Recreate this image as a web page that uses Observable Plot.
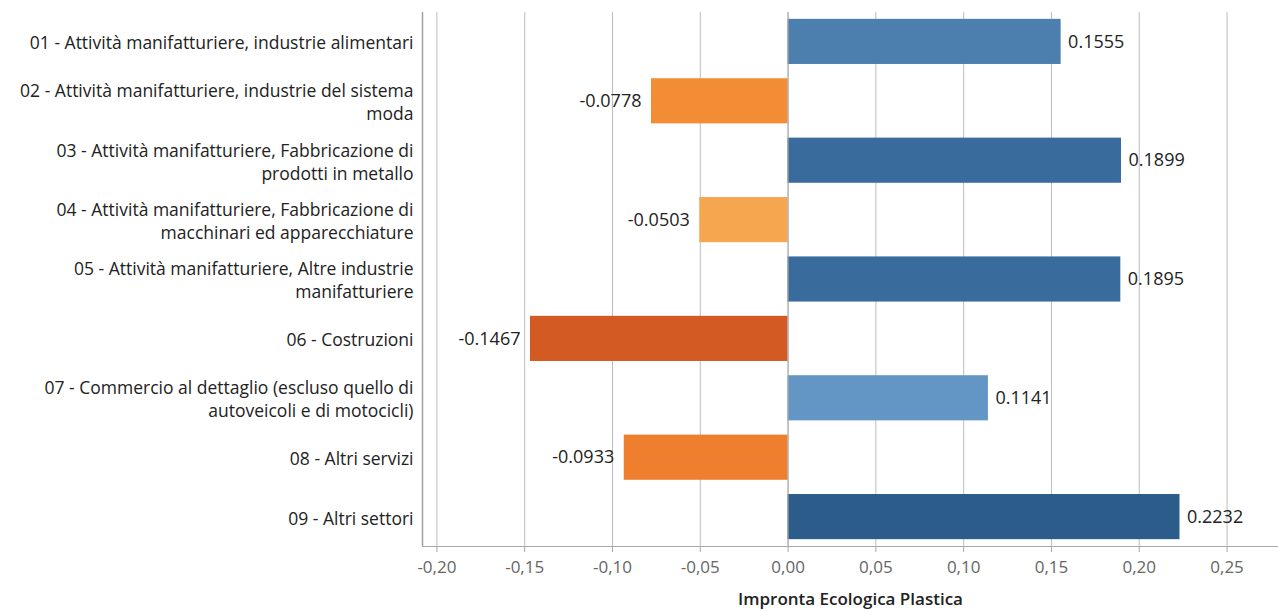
<!DOCTYPE html>
<html>
<head>
<meta charset="utf-8">
<script src="https://cdn.jsdelivr.net/npm/d3@7"></script>
<script src="https://cdn.jsdelivr.net/npm/@observablehq/plot@0.6"></script>
<style>
  html, body { margin: 0; padding: 0; background: #fff; }
  svg { display: block; }
</style>
</head>
<body>
<div id="chart"></div>
<script>
const categories = ["01","02","03","04","05","06","07","08","09"];
const categoryLabels = [
  "01 - Attività manifatturiere, industrie alimentari",
  "02 - Attività manifatturiere, industrie del sistema\nmoda",
  "03 - Attività manifatturiere, Fabbricazione di\nprodotti in metallo",
  "04 - Attività manifatturiere, Fabbricazione di\nmacchinari ed apparecchiature",
  "05 - Attività manifatturiere, Altre industrie\nmanifatturiere",
  "06 - Costruzioni",
  "07 - Commercio al dettaglio (escluso quello di\nautoveicoli e di motocicli)",
  "08 - Altri servizi",
  "09 - Altri settori"
];
const values = [0.1555, -0.0778, 0.1899, -0.0503, 0.1895, -0.1467, 0.1141, -0.0933, 0.2232];
const xTicks = [-0.20, -0.15, -0.10, -0.05, 0.00, 0.05, 0.10, 0.15, 0.20, 0.25];
const xTitle = "Impronta Ecologica Plastica";

const colorStops = [-0.1467, -0.0933, -0.0778, -0.0503, 0.1141, 0.1555, 0.1897, 0.2232];
const colorRange = ["#d35b23", "#ef7e2e", "#f28c35", "#f6a64f", "#6396c4", "#4c7fae", "#396b9d", "#2c5c8a"];

const data = categories.map((c, i) => ({cat: c, label: categoryLabels[i], value: values[i]}));
const labelOf = new Map(categories.map((c, i) => [c, categoryLabels[i]]));

const font = "'Open Sans', 'Noto Sans', sans-serif";

const bottomLine = (index, scales, values, dims) => {
  const y = dims.height - dims.marginBottom;
  return d3.create("svg:line")
    .attr("x1", dims.marginLeft).attr("x2", dims.width - dims.marginRight)
    .attr("y1", y + 0.5).attr("y2", y + 0.5)
    .attr("stroke", "#a8a8a8").attr("stroke-width", 1).node();
};

const chart = Plot.plot({
  width: 1278,
  height: 612,
  marginLeft: 422,
  marginRight: 0,
  marginTop: 12,
  marginBottom: 66,
  style: {fontFamily: font, fontSize: "17px", color: "#333", background: "#fff"},
  x: {domain: [-0.2082, 0.2793], ticks: xTicks},
  y: {domain: categories, paddingInner: 0.24, paddingOuter: 0.115, round: false},
  color: {type: "linear", domain: colorStops, range: colorRange, interpolate: "rgb"},
  marks: [
    Plot.ruleX(xTicks, {stroke: "#bdbdbd", strokeWidth: 1}),
    Plot.ruleX([-0.2082], {stroke: "#a0a0a0", strokeWidth: 1.5}),
    Plot.barX(data, {x: "value", y: "cat", fill: "value"}),
    Plot.ruleX([0], {stroke: "#aaaaaa", strokeWidth: 1}),
    Plot.text(data.filter(d => d.value >= 0), {x: "value", y: "cat", text: d => d.value.toFixed(4), textAnchor: "start", dx: 7, fill: "#222", fontSize: 18}),
    Plot.text(data.filter(d => d.value < 0), {x: "value", y: "cat", text: d => d.value.toFixed(4), textAnchor: "end", dx: -10, fill: "#222", fontSize: 18}),
    Plot.axisY({tickSize: 0, tickPadding: 9, tickFormat: c => labelOf.get(c), label: null, fontSize: 17.5, lineHeight: 1.32, fill: "#222"}),
    Plot.axisX(xTicks, {tickSize: 6, tickPadding: 8, stroke: "#a8a8a8", fill: "#666", tickFormat: d => d.toFixed(2).replace(".", ","), label: null, fontSize: 17}),
    bottomLine,
    Plot.text([xTitle], {frameAnchor: "bottom", dy: 53, lineAnchor: "middle", fill: "#222", fontSize: 17, fontWeight: 600})
  ]
});
document.getElementById("chart").appendChild(chart);
</script>
</body>
</html>
